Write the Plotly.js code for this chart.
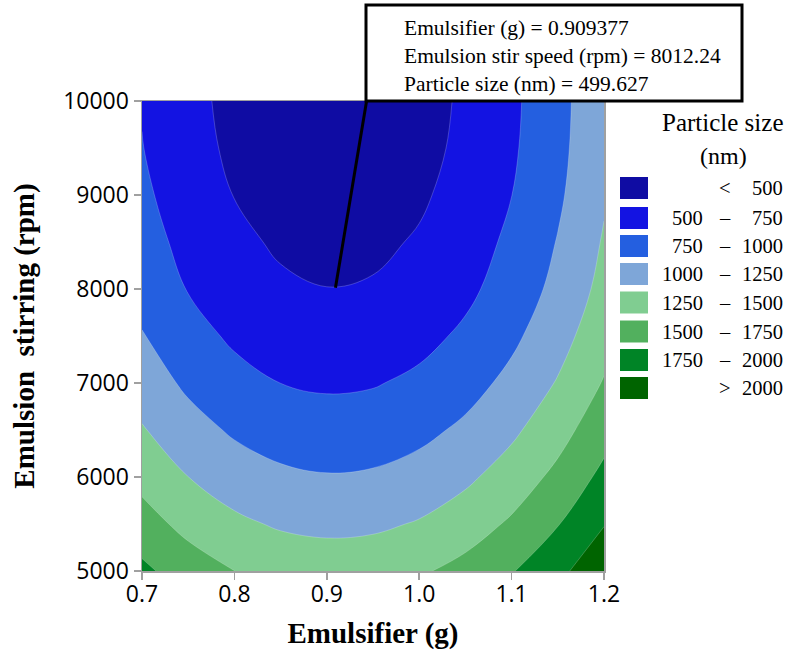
<!DOCTYPE html>
<html>
<head>
<meta charset="utf-8">
<script src="https://cdn.plot.ly/plotly-3.0.1.min.js"></script>
<style>
  html, body { margin: 0; padding: 0; background: #ffffff; }
  #chart { width: 787px; height: 655px; }
</style>
</head>
<body>
<div id="chart"></div>
<script>
// ---- Data ----
var emulsifier = [0.70, 0.75, 0.80, 0.85, 0.90, 0.95, 1.00, 1.05, 1.10, 1.15, 1.20];
var stirSpeed = [5000, 5500, 6000, 6500, 7000, 7500, 8000, 8500, 9000, 9500, 10000];
// particle size (nm), one row per stir speed
var size5000  = [1803, 1628, 1501, 1422, 1391, 1407, 1469, 1578, 1734, 1936, 2184];
var size5500  = [1602, 1427, 1300, 1221, 1190, 1206, 1269, 1379, 1536, 1739, 1989];
var size6000  = [1426, 1251, 1124, 1045, 1014, 1030, 1093, 1203, 1360, 1563, 1813];
var size6500  = [1269, 1094,  967,  888,  857,  873,  936, 1046, 1203, 1406, 1656];
var size7000  = [1130,  955,  828,  749,  718,  734,  797,  907, 1064, 1267, 1517];
var size7500  = [1013,  838,  711,  632,  601,  617,  681,  791,  949, 1155, 1407];
var size8000  = [ 915,  740,  613,  534,  503,  519,  584,  697,  857, 1066, 1322];
var size8500  = [ 851,  676,  549,  470,  439,  456,  521,  636,  799, 1011, 1271];
var size9000  = [ 797,  622,  495,  416,  385,  402,  468,  583,  748,  961, 1224];
var size9500  = [ 757,  583,  457,  379,  348,  365,  432,  549,  716,  933, 1200];
var size10000 = [ 737,  564,  439,  361,  331,  348,  416,  534,  702,  921, 1190];

var levelStart = 500, levelEnd = 2000, levelStep = 250;
var legendLow  = ['',    '500', '750', '1000', '1250', '1500', '1750', ''];
var legendSep  = ['<',   '–',   '–',   '–',    '–',    '–',    '–',    '>'];
var legendHigh = ['500', '750', '1000', '1250', '1500', '1750', '2000', '2000'];
var bandColors = ['#0f0ca3', '#1313e2', '#245fe0', '#7ea6d8', '#80cd91', '#52b05e', '#008426', '#006400'];

var pointX = 0.909377, pointY = 8012.24, pointZ = 499.627;

// ---- Build the chart ----
var zRows = [size5000, size5500, size6000, size6500, size7000, size7500,
             size8000, size8500, size9000, size9500, size10000];

var colorscale = bandColors.map(function (c, i) { return [i / (bandColors.length - 1), c]; });

var trace = {
  type: 'contour',
  x: emulsifier,
  y: stirSpeed,
  z: zRows,
  autocontour: false,
  contours: { start: levelStart, end: levelEnd, size: levelStep, coloring: 'fill', showlines: true },
  line: { color: 'rgba(255,255,255,0.35)', width: 0.6, smoothing: 1.1 },
  colorscale: colorscale,
  showscale: false,
  hoverinfo: 'skip'
};

// pixel geometry of the plot area
var W = 787, H = 655, L = 142, R = 604, T = 101, B = 571;
function px(xp) { return (xp - L) / (R - L); }
function py(yp) { return (B - yp) / (B - T); }

var serif = 'Liberation Serif, Times New Roman, serif';
var sans = 'Open Sans, Noto Sans, sans-serif';

var shapes = [];
var annotations = [];

// read-out box
shapes.push({ type: 'rect', xref: 'paper', yref: 'paper',
  x0: px(366), x1: px(742), y0: py(101), y1: py(5),
  fillcolor: '#ffffff', line: { color: '#000000', width: 3 }, layer: 'above' });
// leader line from the point to the box
shapes.push({ type: 'line', xref: 'x', yref: 'y',
  xsizemode: 'pixel', ysizemode: 'pixel', xanchor: pointX, yanchor: pointY,
  x0: 0, y0: 0, x1: 31, y1: 186,
  line: { color: '#000000', width: 3 }, layer: 'above' });

annotations.push({ xref: 'paper', yref: 'paper', x: px(402), y: py(56),
  xanchor: 'left', yanchor: 'middle', align: 'left', showarrow: false,
  text: 'Emulsifier (g) = ' + pointX + '<br>Emulsion stir speed (rpm) = ' + pointY +
        '<br>Particle size (nm) = ' + pointZ,
  font: { family: serif, size: 21.5, color: '#000000' } });

// legend title
annotations.push({ xref: 'paper', yref: 'paper', x: px(722), y: py(122),
  xanchor: 'center', yanchor: 'middle', showarrow: false,
  text: 'Particle size', font: { family: serif, size: 25, color: '#000000' } });
annotations.push({ xref: 'paper', yref: 'paper', x: px(723), y: py(156),
  xanchor: 'center', yanchor: 'middle', showarrow: false,
  text: '(nm)', font: { family: serif, size: 24, color: '#000000' } });

// legend rows
var rowCenters = [188, 218, 246, 274, 302.5, 331.5, 360, 388];
for (var i = 0; i < bandColors.length; i++) {
  var yc = rowCenters[i];
  shapes.push({ type: 'rect', xref: 'paper', yref: 'paper',
    x0: px(620), x1: px(648), y0: py(yc + 11), y1: py(yc - 11),
    fillcolor: bandColors[i], line: { width: 0 } });
  var f = { family: serif, size: 20.5, color: '#000000' };
  if (legendLow[i]) {
    annotations.push({ xref: 'paper', yref: 'paper', x: px(705), y: py(yc),
      xanchor: 'right', yanchor: 'middle', showarrow: false, text: legendLow[i], font: f });
  }
  annotations.push({ xref: 'paper', yref: 'paper', x: px(725), y: py(yc),
    xanchor: 'center', yanchor: 'middle', showarrow: false, text: legendSep[i], font: f });
  annotations.push({ xref: 'paper', yref: 'paper', x: px(785), y: py(yc),
    xanchor: 'right', yanchor: 'middle', showarrow: false, text: legendHigh[i], font: f });
}

var axisCommon = {
  showgrid: false, zeroline: false, showline: true, mirror: true,
  linecolor: '#a0a0a0', linewidth: 1.5,
  ticks: 'outside', ticklen: 7, tickwidth: 1.5, tickcolor: '#a0a0a0',
  tickfont: { family: sans, size: 23, color: '#000000' }
};

var layout = {
  width: W, height: H,
  margin: { l: L, r: W - R, t: T, b: H - B, pad: 0 },
  paper_bgcolor: '#ffffff', plot_bgcolor: '#ffffff',
  showlegend: false,
  xaxis: Object.assign({}, axisCommon, {
    range: [0.7, 1.2], tickvals: [0.7, 0.8, 0.9, 1.0, 1.1, 1.2], tickformat: '.1f',
    ticklabelstandoff: -5,
    title: { text: '<b>Emulsifier (g)</b>', font: { family: serif, size: 29, color: '#000000' }, standoff: 14 }
  }),
  yaxis: Object.assign({}, axisCommon, {
    range: [5000, 10000], dtick: 1000, tick0: 5000, tickformat: 'd',
    title: { text: '<b>Emulsion  stirring (rpm)</b>', font: { family: serif, size: 29, color: '#000000' }, standoff: 20 }
  }),
  shapes: shapes,
  annotations: annotations
};

Plotly.newPlot('chart', [trace], layout, { displayModeBar: false, staticPlot: true });
</script>
</body>
</html>
